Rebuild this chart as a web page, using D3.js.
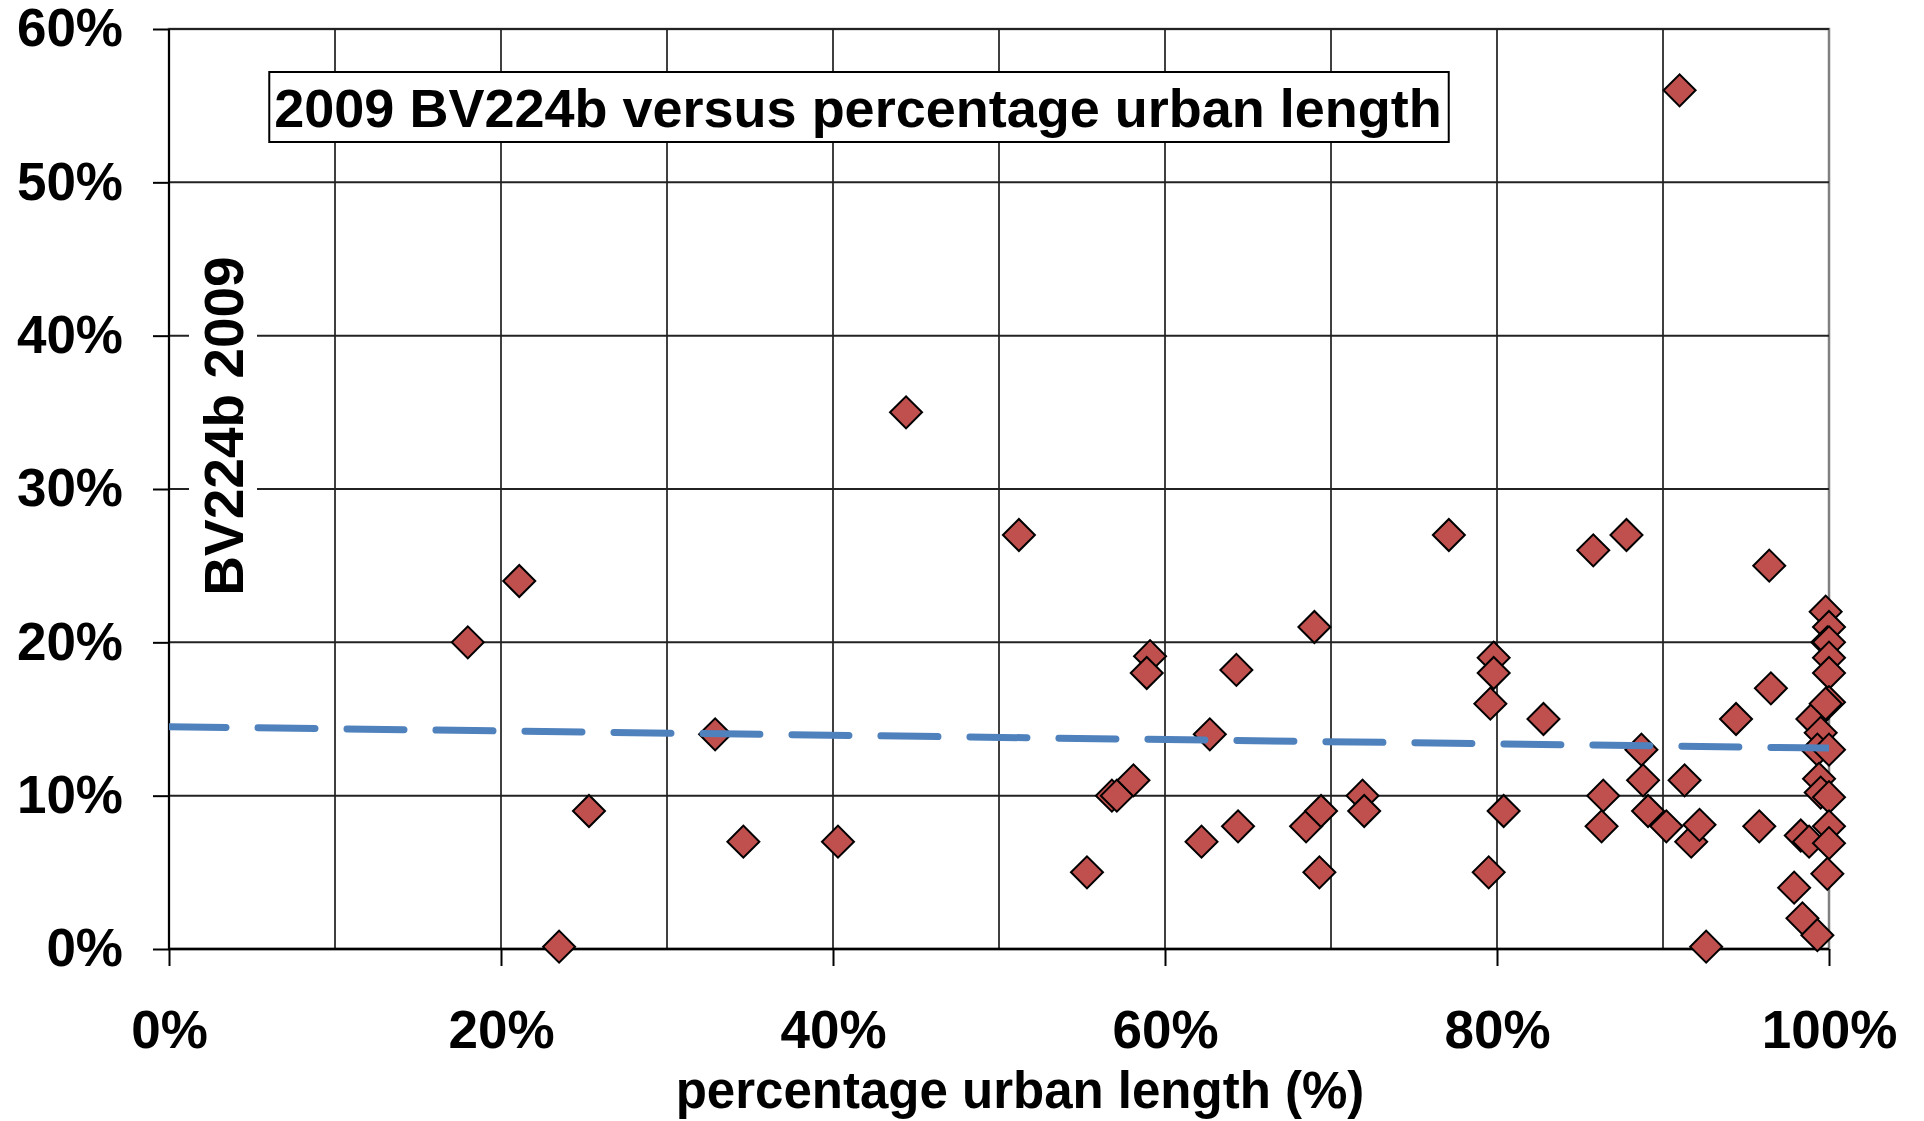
<!DOCTYPE html>
<html lang="en">
<head>
<meta charset="UTF-8">
<title>2009 BV224b versus percentage urban length</title>
<script src="https://d3js.org/d3.v7.min.js"></script>
<style>
  body { margin: 0; background: #fff; }
  text { font-family: "Liberation Sans", Arial, sans-serif; font-weight: bold; fill: #000; }
</style>
</head>
<body>
<script>
// percentage urban length per authority (x) and its BV224b value for 2009 (y)
var urbanShare = [
  0.180, 0.211, 0.235, 0.253, 0.329, 0.346, 0.403, 0.444, 0.512, 0.553,
  0.568, 0.571, 0.581, 0.591, 0.589, 0.622, 0.627, 0.643, 0.644, 0.685,
  0.690, 0.694, 0.693, 0.719, 0.720, 0.771, 0.798, 0.798, 0.796, 0.795,
  0.804, 0.828, 0.858, 0.878, 0.864, 0.863, 0.910, 0.887, 0.888, 0.891,
  0.902, 0.913, 0.917, 0.922, 0.926, 0.944, 0.958, 0.965, 0.964, 0.979,
  0.983, 0.984, 0.988, 0.990, 0.993, 0.995, 0.993, 0.994, 0.995, 0.998,
  1.000, 0.999, 1.000, 1.000, 1.000, 1.000, 0.998, 1.000, 1.000, 1.000,
  1.000, 0.999
];
var bv224b = [
  0.200, 0.240, 0.0015, 0.090, 0.140, 0.070, 0.070, 0.350, 0.270, 0.050,
  0.100, 0.100, 0.110, 0.191, 0.180, 0.070, 0.140, 0.182, 0.080, 0.080,
  0.210, 0.090, 0.050, 0.100, 0.090, 0.270, 0.190, 0.180, 0.160, 0.050,
  0.090, 0.150, 0.260, 0.270, 0.100, 0.080, 0.560, 0.130, 0.110, 0.090,
  0.080, 0.110, 0.070, 0.081, 0.0015, 0.150, 0.080, 0.170, 0.250, 0.040,
  0.074, 0.020, 0.070, 0.150, 0.009, 0.141, 0.130, 0.111, 0.102, 0.220,
  0.210, 0.200, 0.200, 0.190, 0.180, 0.161, 0.160, 0.130, 0.099, 0.080,
  0.069, 0.049
];

// linear trend, read at both ends of the x range
var trendX = [0, 1];
var trendY = [0.145, 0.131];

var xTicks = [0, 0.2, 0.4, 0.6, 0.8, 1];
var yTicks = [0, 0.1, 0.2, 0.3, 0.4, 0.5, 0.6];
var xGrid = [0, 0.1, 0.2, 0.3, 0.4, 0.5, 0.6, 0.7, 0.8, 0.9, 1];

var chartTitle = "2009 BV224b versus percentage urban length";
var xTitle = "percentage urban length (%)";
var yTitle = "BV224b 2009";

var width = 1924, height = 1121;
var plotL = 169, plotR = 1829, plotT = 29, plotB = 949;

var svg = d3.select("body").append("svg")
    .attr("width", width)
    .attr("height", height);

var x = d3.scaleLinear().domain([0, 1]).range([plotL, plotR]);
var y = d3.scaleLinear().domain([0, 0.6]).range([plotB, plotT]);
var pct = d3.format(".0%");

svg.append("clipPath").attr("id", "plotClip")
  .append("rect")
    .attr("x", plotL).attr("y", plotT)
    .attr("width", plotR - plotL).attr("height", plotB - plotT);

// plot area border
svg.append("rect")
    .attr("x", plotL).attr("y", plotT)
    .attr("width", plotR - plotL).attr("height", plotB - plotT)
    .attr("fill", "none")
    .attr("stroke", "#808080")
    .attr("stroke-width", 2.5);

// grid
svg.append("g").selectAll("line")
    .data(xGrid.slice(1, -1))
    .join("line")
    .attr("x1", d => x(d)).attr("x2", d => x(d))
    .attr("y1", plotT).attr("y2", plotB)
    .attr("stroke", "#000").attr("stroke-width", 1.5);

svg.append("g").selectAll("line")
    .data(yTicks.slice(1))
    .join("line")
    .attr("x1", plotL).attr("x2", plotR)
    .attr("y1", d => y(d)).attr("y2", d => y(d))
    .attr("stroke", "#222").attr("stroke-width", 2);

// axes
var yAxis = svg.append("g")
    .attr("transform", "translate(" + plotL + ",0)")
    .call(d3.axisLeft(y).tickValues(yTicks).tickFormat(pct).tickSize(16).tickPadding(30));
var xAxis = svg.append("g")
    .attr("transform", "translate(0," + plotB + ")")
    .call(d3.axisBottom(x).tickValues(xTicks).tickFormat(pct).tickSize(17).tickPadding(44));

[yAxis, xAxis].forEach(function(a) {
    a.select(".domain").remove();
    a.selectAll(".tick line").attr("stroke", "#000").attr("stroke-width", 2);
    a.selectAll(".tick text")
        .attr("fill", "#000")
        .style("font-family", '"Liberation Sans", Arial, sans-serif')
        .style("font-weight", "bold")
        .style("font-size", "53px");
});

svg.append("line")
    .attr("x1", plotL).attr("x2", plotL)
    .attr("y1", plotT).attr("y2", plotB)
    .attr("stroke", "#000").attr("stroke-width", 2);
svg.append("line")
    .attr("x1", plotL).attr("x2", plotR)
    .attr("y1", plotB).attr("y2", plotB)
    .attr("stroke", "#000").attr("stroke-width", 2.5);

// y title with white backing over the grid
var yt = svg.append("g").attr("transform", "translate(243,426) rotate(-90)");
var ytRect = yt.append("rect").attr("fill", "#fff");
var ytText = yt.append("text")
    .attr("text-anchor", "middle")
    .style("font-size", "55px")
    .text(yTitle);
var yb = ytText.node().getBBox();
ytRect.attr("x", yb.x - 8).attr("y", yb.y - 4)
    .attr("width", yb.width + 16).attr("height", yb.height + 6);

// points
var pts = urbanShare.map((u, i) => ({ u: u, v: bv224b[i] }));
var diamond = d3.symbol().type(d3.symbolSquare).size(512);
svg.append("g").selectAll("path")
    .data(pts)
    .join("path")
    .attr("d", diamond)
    .attr("transform", d => "translate(" + x(d.u) + "," + y(d.v) + ") rotate(45)")
    .attr("fill", "#c0504d")
    .attr("stroke", "#000")
    .attr("stroke-width", 2);

// trend line
var line = d3.line().x(d => x(d[0])).y(d => y(d[1]));
svg.append("path")
    .datum(trendX.map((t, i) => [t, trendY[i]]))
    .attr("d", line)
    .attr("clip-path", "url(#plotClip)")
    .attr("fill", "none")
    .attr("stroke", "#4f81bd")
    .attr("stroke-width", 7)
    .attr("stroke-linecap", "round")
    .attr("stroke-dasharray", "57,32");

// chart title in a box
var tRect = svg.append("rect").attr("fill", "#fff").attr("stroke", "#000").attr("stroke-width", 2);
var tText = svg.append("text")
    .attr("x", 858).attr("y", 127)
    .attr("text-anchor", "middle")
    .style("font-size", "54px")
    .text(chartTitle);
var tb = tText.node().getBBox();
tRect.attr("x", tb.x - 5).attr("y", 72)
    .attr("width", tb.width + 12).attr("height", 70);

// x title
svg.append("text")
    .attr("x", 1020)
    .attr("y", 1108)
    .attr("text-anchor", "middle")
    .style("font-size", "51px")
    .text(xTitle);
</script>
</body>
</html>
